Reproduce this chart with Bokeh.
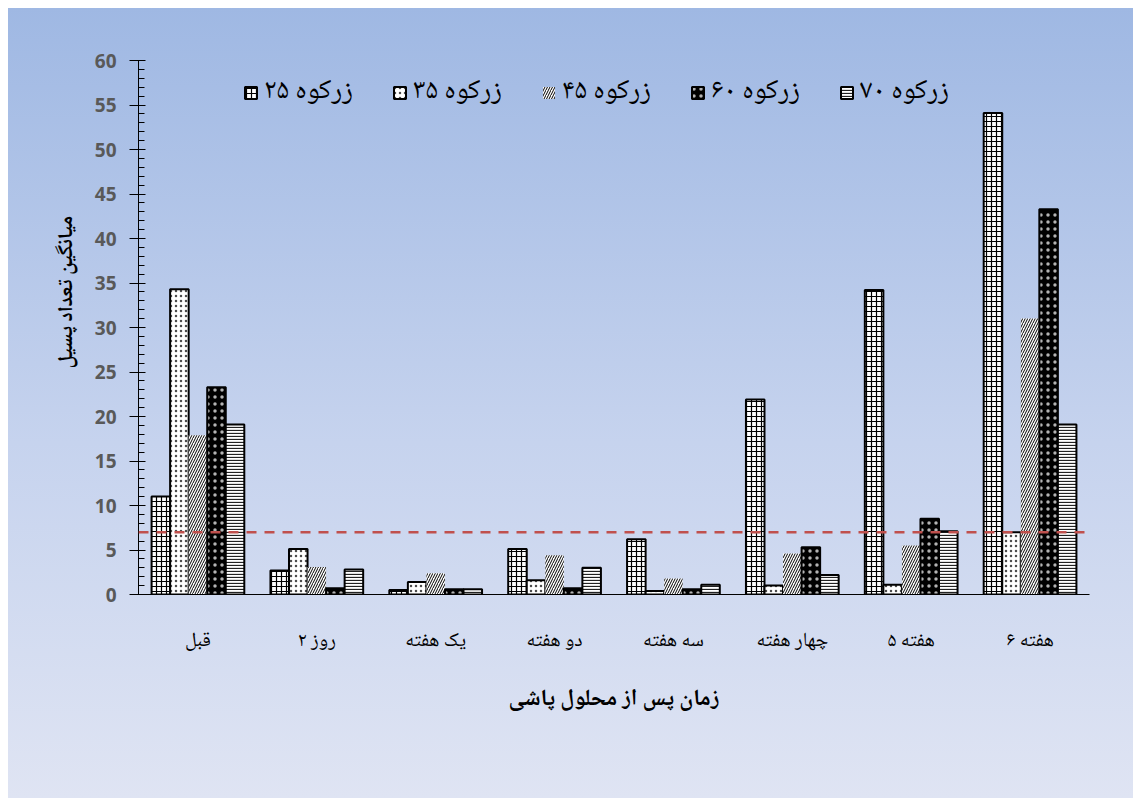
from bokeh.embed import file_html
from bokeh.models import (FactorRange, Legend, LegendItem, SingleIntervalTicker, Span,
                          Title)
from bokeh.plotting import figure
from bokeh.resources import INLINE
from bokeh.transform import dodge

# Sampling times after spraying (x categories)
times = ["قبل", "روز ۲", "یک هفته", "دو هفته", "سه هفته", "چهار هفته", "هفته ۵", "هفته ۶"]

# Mean psyllid counts per site
zarkuh_25 = [11.0, 2.7, 0.5, 5.1, 6.2, 21.9, 34.2, 54.1]
zarkuh_35 = [34.3, 5.1, 1.4, 1.6, 0.4, 1.0, 1.1, 7.0]
zarkuh_45 = [17.9, 3.1, 2.4, 4.4, 1.8, 4.6, 5.5, 31.0]
zarkuh_60 = [23.3, 0.7, 0.6, 0.7, 0.6, 5.3, 8.5, 43.3]
zarkuh_70 = [19.1, 2.8, 0.6, 3.0, 1.1, 2.2, 7.1, 19.1]

series_labels = ["زرکوه ۲۵", "زرکوه ۳۵", "زرکوه ۴۵", "زرکوه ۶۰", "زرکوه ۷۰"]
threshold = 7

y_title = "میانگین تعداد پسیل"
x_title = "زمان پس از محلول پاشی"

ARABIC_FONT = "Noto Naskh Arabic, Noto Sans Arabic, DejaVu Sans"

p = figure(
    x_range=FactorRange(*times),
    y_range=(0, 60),
    width=1125, height=790,
    output_backend="svg",
    toolbar_location=None,
    min_border_left=130, min_border_right=44,
    min_border_top=52, min_border_bottom=204,
)
p.margin = (8, 0, 0, 8)
p.styles = {"background": "linear-gradient(to bottom, #9fb8e3 0%, #c6d3ee 55%, #dfe4f3 100%)"}
p.background_fill_alpha = 0
p.border_fill_alpha = 0
p.outline_line_color = None
p.xgrid.grid_line_color = None
p.ygrid.grid_line_color = None

bar_w = 0.156
styles = [
    dict(fill_color="white", hatch_pattern="cross", hatch_color="black",
         hatch_scale=5, hatch_weight=1.2, line_color="black", line_width=2),
    dict(fill_color="white", hatch_pattern="dot", hatch_color="black", hatch_alpha=0.7,
         hatch_scale=5, hatch_weight=1, line_color="black", line_width=2),
    dict(fill_color="white", hatch_pattern="right_diagonal_line", hatch_color="black",
         hatch_scale=5, hatch_weight=1, line_color=None),
    dict(fill_color="black", hatch_pattern="dot", hatch_color="white", hatch_alpha=0.7,
         hatch_scale=7, hatch_weight=1, line_color="black", line_width=2),
    dict(fill_color="white", hatch_pattern="horizontal_line", hatch_color="#222222",
         hatch_scale=3, hatch_weight=1.3, line_color="black", line_width=2),
]

data = dict(t=times, a=zarkuh_25, b=zarkuh_35, c=zarkuh_45, d=zarkuh_60, e=zarkuh_70)
cols = ["a", "b", "c", "d", "e"]
renderers = []
for i, (col, st) in enumerate(zip(cols, styles)):
    off = (i - 2) * bar_w
    r = p.vbar(x=dodge("t", off, range=p.x_range), top=col, width=bar_w,
               source=data, **st)
    renderers.append(r)

# Threshold line
p.add_layout(Span(location=threshold, dimension="width", line_color="#c0504d",
                  line_width=2.5, line_dash="10 8"))

# Axes
ya = p.yaxis[0]
ya.ticker = SingleIntervalTicker(interval=5, num_minor_ticks=5)
ya.major_tick_in = 7
ya.major_tick_out = 9
ya.minor_tick_in = 6
ya.minor_tick_out = 0
ya.axis_line_color = "black"
ya.major_tick_line_color = "black"
ya.minor_tick_line_color = "black"
ya.major_label_text_font = "Open Sans"
ya.major_label_text_font_style = "bold"
ya.major_label_text_font_size = "19px"
ya.major_label_text_color = "#595959"
ya.major_label_standoff = 13

xa = p.xaxis[0]
xa.major_tick_in = 0
xa.major_tick_out = 0
xa.axis_line_color = "black"
xa.major_label_text_font = ARABIC_FONT
xa.major_label_text_font_size = "20px"
xa.major_label_text_color = "black"
xa.major_label_standoff = 30
xa.axis_label = x_title
xa.axis_label_text_font = ARABIC_FONT
xa.axis_label_text_font_style = "bold"
xa.axis_label_text_font_size = "23px"
xa.axis_label_text_color = "black"
xa.axis_label_standoff = 18

# Vertical title on the left side
p.add_layout(Title(text=y_title, align="left", offset=226,
                   text_font=ARABIC_FONT, text_font_style="bold", text_font_size="21px",
                   text_color="black", standoff=14), "left")

legend = Legend(
    items=[LegendItem(label=lab, renderers=[r]) for lab, r in zip(series_labels, renderers)],
    orientation="horizontal",
    location=(105, 478),
    glyph_width=15, glyph_height=15,
    label_standoff=6, spacing=20, padding=0, margin=0,
    label_width=108,
    label_text_font=ARABIC_FONT,
    label_text_font_size="28px",
    label_text_color="black",
    background_fill_alpha=0,
    border_line_alpha=0,
)
p.add_layout(legend, "center")

open("out.html", "w").write(file_html(p, INLINE))
